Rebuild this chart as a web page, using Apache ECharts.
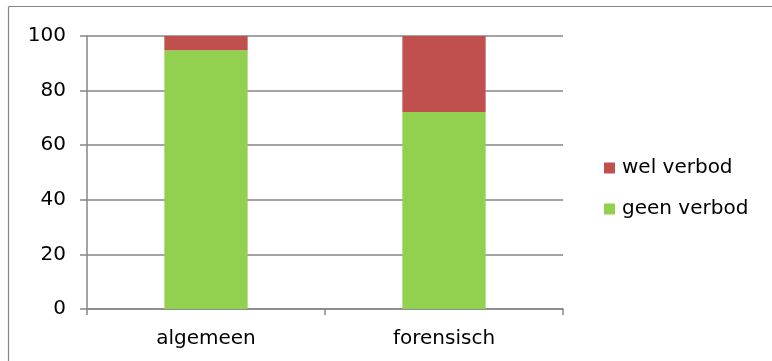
<!DOCTYPE html>
<html>
<head>
<meta charset="utf-8">
<script src="https://cdn.jsdelivr.net/npm/echarts@6/dist/echarts.min.js"></script>
<style>html,body{margin:0;padding:0;background:#fff;overflow:hidden}#c{width:772px;height:361px}</style>
</head>
<body>
<div id="c"></div>
<script>
const categories = ['algemeen', 'forensisch'];
const geenVerbod = [94.8, 72.2];
const welVerbod = [5.2, 27.8];
const yTicks = [0, 20, 40, 60, 80, 100];

const font = 'DejaVu Sans, Verdana, sans-serif';
const chart = echarts.init(document.getElementById('c'), null, {renderer: 'canvas'});
chart.setOption({
  animation: false,
  backgroundColor: '#fff',
  textStyle: {fontFamily: font},
  graphic: [
    {type: 'line', silent: true, shape: {x1: 8.5, y1: 6.5, x2: 772, y2: 6.5},
     style: {stroke: '#868686', lineWidth: 1.2}},
    {type: 'line', silent: true, shape: {x1: 8.5, y1: 6.5, x2: 8.5, y2: 361},
     style: {stroke: '#868686', lineWidth: 1.2}}
  ],
  grid: {left: 87, top: 36, width: 476, height: 273},
  legend: {
    orient: 'vertical',
    left: 599, top: 153,
    itemWidth: 11, itemHeight: 11, itemGap: 21,
    icon: 'rect',
    data: ['wel verbod', 'geen verbod'],
    textStyle: {fontFamily: font, fontSize: 20, color: '#000', padding: [0, 0, 0, 2]}
  },
  xAxis: {
    type: 'category',
    data: categories,
    boundaryGap: true,
    axisLine: {lineStyle: {color: '#868686', width: 1.5}},
    axisTick: {show: true, length: 6, lineStyle: {color: '#868686', width: 1.5}},
    axisLabel: {fontFamily: font, fontSize: 20, color: '#000', margin: 20}
  },
  yAxis: {
    type: 'value',
    min: 0, max: 100, interval: 20,
    axisLine: {show: true, lineStyle: {color: '#868686', width: 1.5}},
    axisTick: {show: true, length: 7, lineStyle: {color: '#868686', width: 1.5}},
    splitLine: {lineStyle: {color: '#868686', width: 1.5}},
    axisLabel: {fontFamily: font, fontSize: 20, color: '#000', margin: 21,
      formatter: v => yTicks.includes(v) ? String(v) : ''}
  },
  series: [
    {name: 'geen verbod', type: 'bar', stack: 's', data: geenVerbod, barWidth: '35%',
     itemStyle: {color: '#92d050'}},
    {name: 'wel verbod', type: 'bar', stack: 's', data: welVerbod, barWidth: '35%',
     itemStyle: {color: '#c0504d'}}
  ]
});
</script>
</body>
</html>
